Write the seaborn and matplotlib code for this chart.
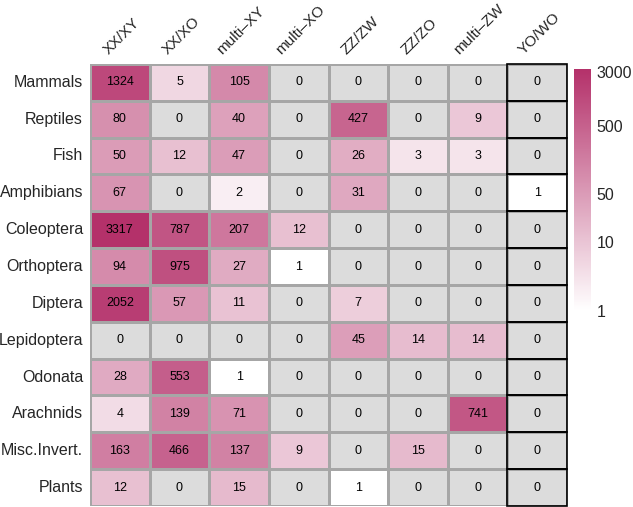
#!/usr/bin/env python3
"""Heatmap of sex-determination systems across taxa (log colour scale)."""

import matplotlib

matplotlib.use("Agg")
import matplotlib.pyplot as plt
import numpy as np
import pandas as pd
import seaborn as sns
from matplotlib.colors import LinearSegmentedColormap, ListedColormap, LogNorm
from matplotlib.patches import Rectangle
from matplotlib.ticker import NullLocator

taxa = [
    "Mammals", "Reptiles", "Fish", "Amphibians", "Coleoptera", "Orthoptera",
    "Diptera", "Lepidoptera", "Odonata", "Arachnids", "Misc.Invert.", "Plants",
]
systems = ["XX/XY", "XX/XO", "multi–XY", "multi–XO", "ZZ/ZW", "ZZ/ZO", "multi–ZW", "YO/WO"]

xx_xy = [1324, 80, 50, 67, 3317, 94, 2052, 0, 28, 4, 163, 12]
xx_xo = [5, 0, 12, 0, 787, 975, 57, 0, 553, 139, 466, 0]
multi_xy = [105, 40, 47, 2, 207, 27, 11, 0, 1, 71, 137, 15]
multi_xo = [0, 0, 0, 0, 12, 1, 0, 0, 0, 0, 9, 0]
zz_zw = [0, 427, 26, 31, 0, 0, 7, 45, 0, 0, 0, 1]
zz_zo = [0, 0, 3, 0, 0, 0, 0, 14, 0, 0, 15, 0]
multi_zw = [0, 9, 3, 0, 0, 0, 0, 14, 0, 741, 0, 0]
yo_wo = [0, 0, 0, 1, 0, 0, 0, 0, 0, 0, 0, 0]

cbar_ticks = [1, 10, 50, 500, 3000]

GRID = "#a6a6a6"
ZERO = "#dcdcdc"


def main() -> None:
    df = pd.DataFrame(
        dict(zip(systems, [xx_xy, xx_xo, multi_xy, multi_xo, zz_zw, zz_zo, multi_zw, yo_wo])),
        index=taxa,
    )

    sns.set_theme(style="white")
    plt.rcParams["font.family"] = ["Liberation Sans", "DejaVu Sans"]

    fig = plt.figure(figsize=(6.33, 5.07), dpi=100)
    ax = fig.add_axes([0.1422, 0.002, 0.7536, 0.872])
    cax = fig.add_axes([0.9068, 0.3866, 0.0269, 0.477])

    # grey base layer carries the numbers and the zero cells
    sns.heatmap(
        df, ax=ax, cmap=ListedColormap([ZERO]), cbar=False,
        annot=True, fmt="d", annot_kws={"size": 9, "color": "black"},
        linewidths=1, linecolor=GRID,
    )

    cmap = LinearSegmentedColormap.from_list("wine", ["#ffffff", "#b4316a"])
    sns.heatmap(
        df, ax=ax, mask=df == 0, cmap=cmap, norm=LogNorm(vmin=1, vmax=df.values.max()),
        linewidths=1, linecolor=GRID, cbar_ax=cax,
    )

    # black outline on the last column
    last = len(systems) - 1
    for i in range(len(taxa)):
        ax.add_patch(Rectangle((last, i), 1, 1, fill=False, edgecolor="black",
                               linewidth=1.2, clip_on=False, zorder=4))

    ax.xaxis.tick_top()
    ax.set_xticks(np.arange(len(systems)) + 0.53)
    ax.set_xticklabels(systems, rotation=45, ha="center", va="bottom", fontsize=11)
    ax.set_yticklabels(taxa, rotation=0, fontsize=11.5)
    ax.tick_params(axis="both", length=0)
    ax.tick_params(axis="x", pad=5)
    ax.tick_params(axis="y", pad=5)
    ax.set_xlabel("")
    ax.set_ylabel("")

    cbar = ax.collections[-1].colorbar
    cbar.outline.set_visible(False)
    cbar.set_ticks(cbar_ticks)
    cbar.set_ticklabels([str(t) for t in cbar_ticks], fontsize=11.5)
    cax.yaxis.set_minor_locator(NullLocator())
    cax.tick_params(length=0, pad=4)

    fig.savefig("out.png", dpi=100)
    plt.close(fig)


if __name__ == "__main__":
    main()
